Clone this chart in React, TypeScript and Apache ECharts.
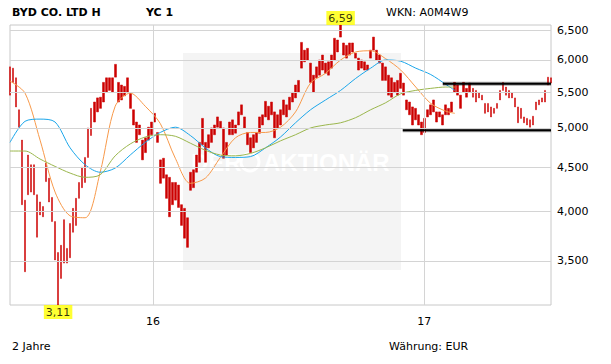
import React, { useEffect, useRef } from "react";
import * as echarts from "echarts";

// ---- data ----
const SPAN_DAYS = 730; // 2015-06-22 .. 2017-06-21
const yearTickDays = [193, 559];
const yearTickLabels = ["16", "17"];
const priceTicks = [3.5, 4, 4.5, 5, 5.5, 6, 6.5];
const priceTickLabels = ["3,500", "4,000", "4,500", "5,000", "5,500", "6,000", "6,500"];
const yMin = 3.11;
const yMax = 6.59;

const barLow = [
  5.46, 5.65, 5.29, 5.01, 4.07, 3.40, 4.18, 4.21, 4.18, 3.73,
  3.96, 3.94, 4.33, 4.10, 3.89, 3.51, 3.11, 3.34, 3.48, 3.48,
  3.53, 3.78, 3.85, 4.14, 4.26, 4.32, 4.62, 4.90, 5.08, 5.22,
  5.27, 5.36, 5.50, 5.53, 5.50, 5.73, 5.36, 5.39, 5.45, 5.50,
  5.27, 5.04, 4.81, 4.91, 4.59, 4.68, 4.84, 4.91, 5.08, 4.81,
  4.31, 4.37, 4.14, 3.94, 4.07, 4.12, 4.04, 3.85, 3.72, 3.63,
  4.23, 4.26, 4.44, 4.56, 4.78, 4.56, 4.74, 4.81, 4.91, 5.01,
  5.00, 4.61, 4.65, 4.91, 4.91, 4.93, 5.04, 5.18, 5.00, 4.78,
  4.68, 4.74, 4.81, 4.93, 5.04, 5.15, 5.11, 5.18, 4.87, 5.00,
  5.04, 5.18, 5.15, 5.25, 5.36, 5.42, 5.50, 5.87, 5.97, 6.00,
  5.65, 5.50, 5.72, 5.76, 5.84, 5.79, 5.76, 5.87, 6.00, 6.13,
  6.38, 6.08, 6.03, 6.08, 6.13, 6.03, 5.84, 5.87, 5.84, 5.84,
  6.03, 6.16, 6.00, 5.95, 5.68, 5.68, 5.46, 5.43, 5.50, 5.46,
  5.56, 5.46, 5.25, 5.18, 5.04, 5.11, 5.04, 4.91, 4.94, 5.15,
  5.18, 5.22, 5.08, 5.15, 5.04, 5.18, 5.18, 5.22, 5.50, 5.46,
  5.27, 5.50, 5.43, 5.50, 5.43, 5.36, 5.42, 5.39, 5.20, 5.22,
  5.15, 5.20, 5.27, 5.39, 5.53, 5.46, 5.42, 5.42, 5.29, 5.07,
  5.13, 5.07, 5.04, 5.01, 5.04, 5.25, 5.32, 5.36, 5.36, 5.61,
  5.64,
];
const barHigh = [
  5.89, 5.87, 5.72, 5.25, 4.84, 4.12, 4.65, 4.53, 4.53, 4.18,
  4.10, 4.05, 4.55, 4.37, 4.15, 3.89, 3.58, 3.65, 3.91, 3.62,
  3.87, 4.03, 4.14, 4.32, 4.50, 4.62, 5.00, 5.27, 5.36, 5.42,
  5.43, 5.65, 5.72, 5.72, 5.72, 5.93, 5.65, 5.61, 5.59, 5.72,
  5.49, 5.25, 5.08, 5.04, 4.84, 4.87, 5.01, 5.08, 5.20, 4.94,
  4.59, 4.61, 4.41, 4.38, 4.32, 4.32, 4.29, 4.07, 4.03, 3.93,
  4.44, 4.47, 4.65, 4.81, 5.13, 4.81, 4.91, 5.00, 5.04, 5.15,
  5.09, 5.00, 4.81, 5.08, 5.11, 5.04, 5.22, 5.32, 5.15, 4.94,
  4.87, 4.91, 4.94, 5.15, 5.18, 5.37, 5.30, 5.36, 5.22, 5.18,
  5.25, 5.39, 5.32, 5.43, 5.50, 5.61, 5.68, 6.29, 6.16, 6.19,
  5.95, 5.76, 5.89, 6.00, 6.08, 5.95, 5.97, 6.08, 6.36, 6.33,
  6.59, 6.28, 6.24, 6.28, 6.28, 6.11, 6.03, 6.00, 5.97, 5.92,
  6.16, 6.38, 6.16, 6.08, 5.95, 5.89, 5.76, 5.72, 5.65, 5.68,
  5.79, 5.64, 5.39, 5.36, 5.29, 5.27, 5.18, 5.08, 5.13, 5.25,
  5.32, 5.39, 5.22, 5.22, 5.18, 5.32, 5.27, 5.36, 5.65, 5.61,
  5.46, 5.65, 5.56, 5.64, 5.56, 5.53, 5.50, 5.46, 5.34, 5.34,
  5.29, 5.27, 5.34, 5.53, 5.65, 5.58, 5.53, 5.49, 5.42, 5.29,
  5.27, 5.15, 5.13, 5.11, 5.16, 5.36, 5.39, 5.42, 5.53, 5.73,
  5.72,
];

// moving averages sampled at these bar indices
const maIndex = [
  0, 5, 10, 15, 20, 25, 30, 35, 40, 45, 50, 55, 60, 65, 70, 75,
  80, 85, 90, 95, 100, 105, 110, 115, 120, 125, 130, 135, 140, 145, 148,
];
const maFast = [
  5.67, 5.49, 4.84, 4.21, 3.95, 3.93, 4.44, 5.30, 5.49, 5.30, 5.06,
  4.61, 4.31, 4.37, 4.62, 4.87, 4.94, 4.94, 5.01, 5.22, 5.64,
  5.79, 6.00, 6.13, 6.15, 6.02, 5.84, 5.58, 5.34, 5.23, 5.20,
];
const maMid = [
  4.81, 5.09, 5.12, 5.08, 4.74, 4.53, 4.44, 4.49, 4.65, 4.81, 4.94,
  5.01, 4.90, 4.74, 4.63, 4.62, 4.63, 4.74, 4.88, 5.07, 5.25,
  5.39, 5.53, 5.71, 5.87, 6.00, 5.98, 5.87, 5.77, 5.62, 5.53,
];
const maSlow = [
  4.70, 4.70, 4.60, 4.51, 4.43, 4.38, 4.41, 4.64, 4.79, 4.88, 4.91,
  4.89, 4.80, 4.71, 4.65, 4.64, 4.67, 4.74, 4.83, 4.91, 5.00,
  5.04, 5.07, 5.14, 5.25, 5.35, 5.48, 5.53, 5.56, 5.58, 5.58,
];

const resistanceLevel = 5.63;
const resistanceStartDay = 584;
const supportLevel = 4.97;
const supportStartDay = 530;

const titleText = "BYD CO. LTD H";
const subText = "YC 1";
const wknText = "WKN: A0M4W9";
const periodText = "2 Jahre";
const currencyText = "Währung: EUR";

// ---- helpers ----
const FONT = "'DejaVu Sans', Verdana, sans-serif";
const RED = "#cc0000";
const dayOf = (i: number) => (i * SPAN_DAYS) / (barLow.length - 1);
const fmt = (v: number) => v.toFixed(2).replace(".", ",");

export default function App() {
  const ref = useRef<HTMLDivElement>(null);

  useEffect(() => {
    if (!ref.current) return;
    const chart = echarts.init(ref.current, undefined, { renderer: "svg" });

    const maxV = Math.max(...barHigh);
    const minV = Math.min(...barLow);
    const maxI = barHigh.indexOf(maxV);
    const minI = barLow.indexOf(minV);

    const maSeries = (vals: number[], color: string) => ({
      type: "line",
      data: maIndex.map((k, j) => [dayOf(k), vals[j]]),
      showSymbol: false,
      smooth: 0.3,
      silent: true,
      z: 3,
      lineStyle: { color, width: 1 },
    });

    const levelLine = (start: number, level: number, color: string, width: number, z: number) => ({
      type: "line",
      data: [
        [start, level],
        [SPAN_DAYS, level],
      ],
      showSymbol: false,
      silent: true,
      z,
      lineStyle: { color, width },
    });

    const wmFont = "bold 24px 'Liberation Sans', Arial, sans-serif";

    chart.setOption({
      animation: false,
      grid: {
        left: 10,
        top: 25,
        width: 541,
        height: 280,
        show: true,
        borderColor: "#c8c8c8",
        borderWidth: 1,
        backgroundColor: "transparent",
      },
      xAxis: { type: "value", min: 0, max: SPAN_DAYS, show: false },
      yAxis: { type: "log", min: yMin, max: yMax, show: false },
      graphic: [
        {
          type: "rect",
          z: 0,
          silent: true,
          shape: { x: 183, y: 53, width: 218, height: 217 },
          style: { fill: "#f4f4f4" },
        },
        {
          type: "text",
          z: 0,
          silent: true,
          left: 191,
          top: 150,
          style: { text: "DER", fill: "#ffffff", font: wmFont },
        },
        {
          type: "circle",
          z: 0,
          silent: true,
          shape: { cx: 250, cy: 162, r: 9 },
          style: { fill: "none", stroke: "#ffffff", lineWidth: 3 },
        },
        {
          type: "text",
          z: 0,
          silent: true,
          left: 263,
          top: 150,
          style: { text: "AKTIONÄR", fill: "#ffffff", font: wmFont },
        },
        { type: "text", left: 12, top: 7, style: { text: titleText, fill: "#000", font: `bold 11px ${FONT}` } },
        { type: "text", left: 146, top: 7, style: { text: subText, fill: "#000", font: `bold 11px ${FONT}` } },
        { type: "text", left: 386, top: 7, style: { text: wknText, fill: "#000", font: `11px ${FONT}` } },
        { type: "text", left: 12, top: 341, style: { text: periodText, fill: "#000", font: `11px ${FONT}` } },
        { type: "text", left: 389, top: 341, style: { text: currencyText, fill: "#000", font: `11px ${FONT}` } },
      ],
      series: [
        {
          type: "line",
          data: [],
          z: 1,
          silent: true,
          markLine: {
            silent: true,
            symbol: ["none", "none"],
            lineStyle: { color: "#d4d4d4", width: 1, type: "solid" },
            label: {
              show: true,
              position: "end",
              distance: 6,
              color: "#000",
              fontSize: 11,
              fontFamily: FONT,
            },
            emphasis: { disabled: true },
            data: [
              ...priceTicks.map((v, i) => ({ yAxis: v, label: { formatter: priceTickLabels[i] } })),
              ...yearTickDays.map((d, i) => ({
                xAxis: d,
                label: { position: "start", distance: 11, formatter: yearTickLabels[i] },
              })),
            ],
          },
        },
        {
          type: "candlestick",
          z: 2,
          silent: true,
          barWidth: 2.2,
          encode: { x: 0, y: [1, 2, 3, 4] },
          data: barLow.map((lo, i) => [dayOf(i), lo, barHigh[i], lo, barHigh[i]]),
          itemStyle: {
            color: RED,
            color0: RED,
            borderColor: RED,
            borderColor0: RED,
            borderWidth: 0.5,
          },
        },
        maSeries(maFast, "#f7994a"),
        maSeries(maMid, "#1ba6ea"),
        maSeries(maSlow, "#9ab64c"),
        levelLine(resistanceStartDay, resistanceLevel, "rgba(0,0,0,0.35)", 4, 4),
        levelLine(resistanceStartDay, resistanceLevel, "#000", 2, 5),
        levelLine(supportStartDay, supportLevel, "rgba(0,0,0,0.35)", 4, 4),
        levelLine(supportStartDay, supportLevel, "#000", 2, 5),
        {
          type: "scatter",
          z: 6,
          silent: true,
          symbolSize: 0,
          itemStyle: { color: "transparent" },
          label: {
            show: true,
            color: "#000",
            fontSize: 11,
            fontFamily: FONT,
            backgroundColor: "#ffff00",
            padding: [2, 2, 1, 2],
            distance: 0,
          },
          data: [
            { value: [dayOf(maxI), maxV], label: { position: "top", formatter: fmt(maxV) } },
            { value: [dayOf(minI), minV], label: { position: "bottom", formatter: fmt(minV) } },
          ],
        },
      ],
    });

    return () => chart.dispose();
  }, []);

  return (
    <div
      ref={ref}
      style={{ position: "absolute", left: 0, top: 0, width: 611, height: 364, background: "#fff" }}
    />
  );
}
